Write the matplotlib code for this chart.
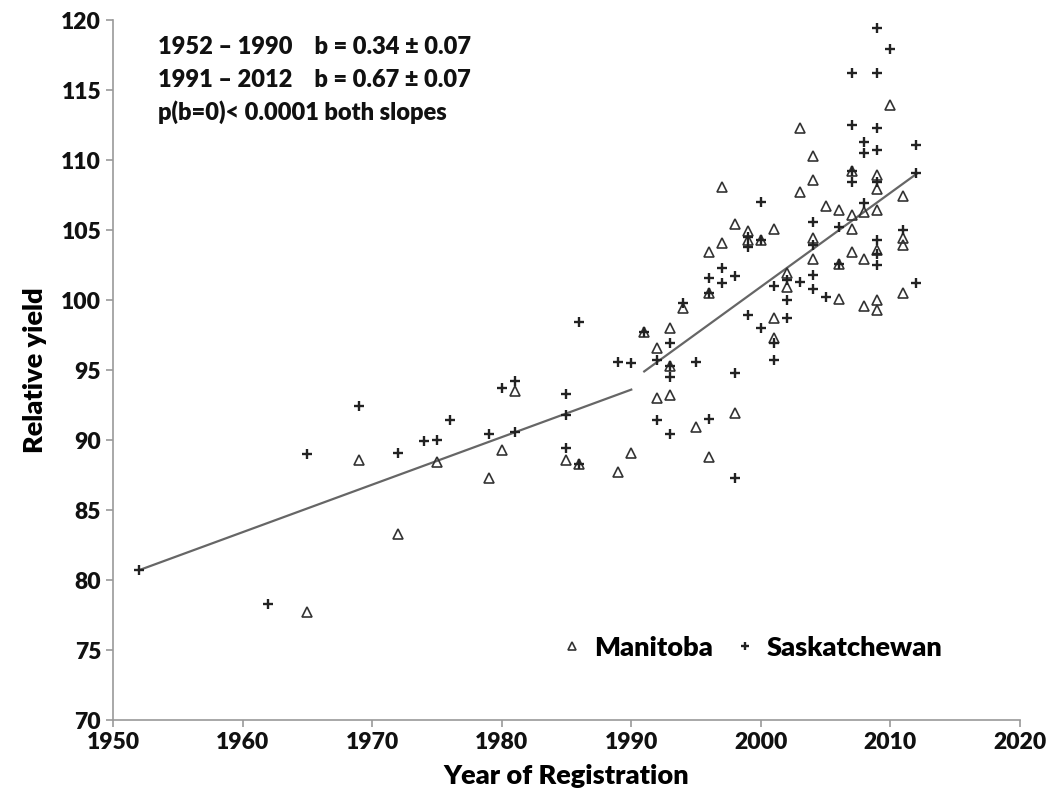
import matplotlib
matplotlib.use("Agg")
import matplotlib.pyplot as plt

# Manitoba entries (open triangles)
mb_year = [1965, 1969, 1972, 1975, 1979, 1980, 1981, 1985, 1986, 1989, 1990,
           1991, 1992, 1992, 1993, 1993, 1993, 1994, 1995, 1996, 1996, 1996,
           1997, 1997, 1998, 1998, 1999, 1999, 2000, 2001, 2001, 2001, 2002, 2002,
           2003, 2003, 2004, 2004, 2004, 2004, 2005, 2006, 2006, 2006,
           2007, 2007, 2007, 2007, 2008, 2008, 2008,
           2009, 2009, 2009, 2009, 2009, 2009, 2010, 2011, 2011, 2011, 2011]
mb_yield = [77.7, 88.6, 83.3, 88.4, 87.3, 89.3, 93.5, 88.6, 88.3, 87.7, 89.1,
            97.7, 96.6, 93.0, 98.0, 93.2, 95.3, 99.4, 90.95, 103.4, 100.5, 88.8,
            108.1, 104.1, 105.4, 91.9, 104.9, 104.3, 104.3, 105.1, 98.7, 97.3, 101.9, 100.95,
            112.3, 107.7, 110.3, 108.6, 104.4, 102.9, 106.7, 106.4, 102.6, 100.1,
            109.2, 106.1, 105.05, 103.4, 106.3, 102.9, 99.6,
            108.9, 107.9, 106.4, 103.6, 100.0, 99.3, 113.9, 107.4, 104.4, 103.9, 100.5]

# Saskatchewan entries (plus signs)
sk_year = [1952, 1962, 1965, 1969, 1972, 1974, 1975, 1976, 1979, 1980, 1981, 1981,
           1985, 1985, 1985, 1986, 1986, 1989, 1990, 1991, 1992, 1992,
           1993, 1993, 1993, 1993, 1994, 1995, 1996, 1996, 1996, 1997, 1997,
           1998, 1998, 1998, 1999, 1999, 1999, 2000, 2000, 2000,
           2001, 2001, 2001, 2002, 2002, 2002, 2003, 2004, 2004, 2004, 2004,
           2005, 2006, 2006, 2007, 2007, 2007, 2007, 2008, 2008, 2008,
           2009, 2009, 2009, 2009, 2009, 2009, 2009, 2009, 2010, 2011,
           2012, 2012, 2012]
sk_yield = [80.7, 78.3, 89.0, 92.4, 89.05, 89.9, 90.0, 91.4, 90.4, 93.7, 94.2, 90.6,
            93.3, 91.8, 89.4, 98.4, 88.3, 95.6, 95.5, 97.7, 95.7, 91.4,
            96.9, 95.3, 94.5, 90.4, 99.8, 95.6, 101.6, 100.5, 91.5, 102.3, 101.2,
            101.7, 94.8, 87.3, 104.5, 103.8, 98.9, 107.0, 104.3, 98.0,
            101.0, 96.9, 95.7, 101.4, 100.0, 98.7, 101.3, 105.6, 103.9, 101.8, 100.8,
            100.2, 105.2, 102.6, 116.2, 112.5, 109.2, 108.4, 111.3, 110.5, 106.9,
            119.45, 116.2, 112.3, 110.7, 108.4, 104.3, 103.3, 102.5, 117.9, 105.0,
            111.1, 109.05, 101.2]

# fitted segments
fit1_year = [1952, 1990]
fit1_yield = [80.7, 93.6]
fit2_year = [1991, 2012]
fit2_yield = [94.9, 109.0]

stats_lines = ["1952 \u2013 1990    b = 0.34 \u00b1 0.07",
               "1991 \u2013 2012    b = 0.67 \u00b1 0.07",
               "p(b=0)< 0.0001 both slopes"]

plt.rcParams['font.family'] = ['Lato', 'DejaVu Sans']
plt.rcParams['font.weight'] = 'heavy'

fig = plt.figure(figsize=(10.5, 8.01), dpi=100)
ax = fig.add_axes([0.1076, 0.1011, 0.8638, 0.8739])

ax.plot(fit1_year, fit1_yield, color='#666666', lw=1.6, zorder=2)
ax.plot(fit2_year, fit2_yield, color='#666666', lw=1.6, zorder=2)

ax.plot(mb_year, mb_yield, ls='none', marker='^', ms=6.5, mfc='none',
        mec='#333333', mew=1.2, label='Manitoba', zorder=3)
ax.plot(sk_year, sk_yield, ls='none', marker='+', ms=7, color='#222222',
        mew=1.7, label='Saskatchewan', zorder=3)

ax.set_xlim(1950, 2020)
ax.set_ylim(70, 120)
ax.set_xticks(range(1950, 2021, 10))
ax.set_yticks(range(70, 121, 5))

for s in ['top', 'right']:
    ax.spines[s].set_visible(False)
for s in ['left', 'bottom']:
    ax.spines[s].set_color('#999999')
    ax.spines[s].set_linewidth(1.2)
ax.tick_params(colors='#999999', labelcolor='#111111', labelsize=16.5,
               length=5, width=1.2, direction='out')
for lab in ax.get_xticklabels() + ax.get_yticklabels():
    lab.set_fontweight('heavy')

ax.set_xlabel('Year of Registration', fontsize=19.5, fontweight='heavy', labelpad=8)
ax.set_ylabel('Relative yield', fontsize=19.5, fontweight='heavy', labelpad=10)

for i, line in enumerate(stats_lines):
    ax.text(0.05, 0.961 - i * 0.046, line, transform=ax.transAxes,
            fontsize=17, fontweight='heavy', ha='left', va='center', color='#111111')

ax.legend(loc='center', bbox_to_anchor=(0.703, 0.103), ncol=2, frameon=False,
          prop={'size': 19.5, 'weight': 'heavy'}, handletextpad=0.3,
          columnspacing=0.7, markerscale=0.8, handlelength=1.0)

fig.savefig('out.png', dpi=100)
